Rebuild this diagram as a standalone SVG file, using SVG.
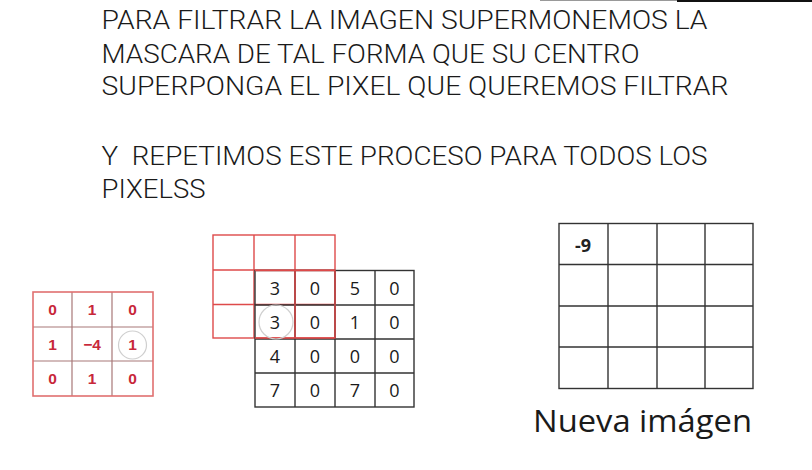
<svg xmlns="http://www.w3.org/2000/svg" width="812" height="470" viewBox="0 0 812 470">
<style>
.hd{font-family:Roboto,"Liberation Sans",sans-serif;font-weight:300;font-size:25px;fill:#1a1a1a;white-space:pre}
.kn{font-family:"Liberation Sans",Arial,sans-serif;font-weight:bold;font-size:15.5px;fill:#c8283a;text-anchor:middle}
.im{font-family:"Open Sans","Liberation Sans",sans-serif;font-size:18px;fill:#1a1a1a;text-anchor:middle}
.rl{stroke:#de4a4a;stroke-width:1.4;fill:none}
.bl{stroke:#333;stroke-width:1.4;fill:none}
.kl{stroke:#e07070;stroke-width:1.6;fill:none}
.ki{stroke:#a87878;stroke-width:1.2;fill:none}
.cir{stroke:#cfcfcf;stroke-width:1.2;fill:none}
</style>
<rect width="812" height="470" fill="#ffffff"/>
<g id="topbar">
<line x1="540" y1="0.5" x2="677" y2="0.5" stroke="#999" stroke-width="1.2"/>
<line x1="677" y1="1" x2="812" y2="1" stroke="#111" stroke-width="2"/>
</g>
<g id="header">
<text class="hd" x="101.5" y="28.5" textLength="606" lengthAdjust="spacingAndGlyphs">PARA FILTRAR LA IMAGEN SUPERMONEMOS LA</text>
<text class="hd" x="101.5" y="63" textLength="538" lengthAdjust="spacingAndGlyphs">MASCARA DE TAL FORMA QUE SU CENTRO</text>
<text class="hd" x="101.5" y="94.5" textLength="627" lengthAdjust="spacingAndGlyphs">SUPERPONGA EL PIXEL QUE QUEREMOS FILTRAR</text>
<text class="hd" x="101.5" y="164.5" textLength="606" lengthAdjust="spacingAndGlyphs" xml:space="preserve">Y  REPETIMOS ESTE PROCESO PARA TODOS LOS</text>
<text class="hd" x="101.5" y="197.5" textLength="104" lengthAdjust="spacingAndGlyphs">PIXELSS</text>
</g>
<g id="kernel">
<path class="ki" d="M72 292V396M112 292V396M33 327H153M33 361H153"/>
<rect class="kl" x="33" y="292" width="120" height="104"/>
<circle class="cir" cx="132.5" cy="345" r="14"/>
<text class="kn" x="52.5" y="315">0</text>
<text class="kn" x="92" y="315">1</text>
<text class="kn" x="132.5" y="315">0</text>
<text class="kn" x="52.5" y="349.5">1</text>
<text class="kn" x="92" y="349.5">−4</text>
<text class="kn" x="132.5" y="349.5">1</text>
<text class="kn" x="52.5" y="384">0</text>
<text class="kn" x="92" y="384">1</text>
<text class="kn" x="132.5" y="384">0</text>
</g>
<g id="imagen">
<rect class="rl" x="213" y="235" width="122" height="103"/>
<path class="rl" d="M254 235V338M295 235V338M213 270H335M213 304.5H335"/>
<rect class="bl" x="255" y="270.5" width="159" height="136.5"/>
<path class="bl" d="M295 270.5V407M335 270.5V407M375 270.5V407M255 305H414M255 339H414M255 373H414"/>
<path class="rl" d="M255 270.5H335V338H255M295 270.5V338" stroke="#cc3322"/>
<circle class="cir" cx="276" cy="322" r="17"/>
<text class="im" x="275" y="294.5">3</text>
<text class="im" x="315" y="294.5">0</text>
<text class="im" x="355" y="294.5">5</text>
<text class="im" x="394.5" y="294.5">0</text>
<text class="im" x="275" y="328.5">3</text>
<text class="im" x="315" y="328.5">0</text>
<text class="im" x="355" y="328.5">1</text>
<text class="im" x="394.5" y="328.5">0</text>
<text class="im" x="275" y="362.5">4</text>
<text class="im" x="315" y="362.5">0</text>
<text class="im" x="355" y="362.5">0</text>
<text class="im" x="394.5" y="362.5">0</text>
<text class="im" x="275" y="396.5">7</text>
<text class="im" x="315" y="396.5">0</text>
<text class="im" x="355" y="396.5">7</text>
<text class="im" x="394.5" y="396.5">0</text>
</g>
<g id="nueva">
<rect class="bl" x="559" y="223.5" width="194" height="165"/>
<path class="bl" d="M608 223.5V388.5M657 223.5V388.5M705 223.5V388.5M559 264.5H753M559 306H753M559 347H753"/>
<text x="583" y="252" font-family="'Open Sans','Liberation Sans',sans-serif" font-size="18" font-weight="bold" fill="#222" text-anchor="middle">-9</text>
<text x="533" y="432" font-family="'Open Sans','Liberation Sans',sans-serif" font-size="31" fill="#1a1a1a" textLength="219" lengthAdjust="spacingAndGlyphs">Nueva imágen</text>
</g>
</svg>
